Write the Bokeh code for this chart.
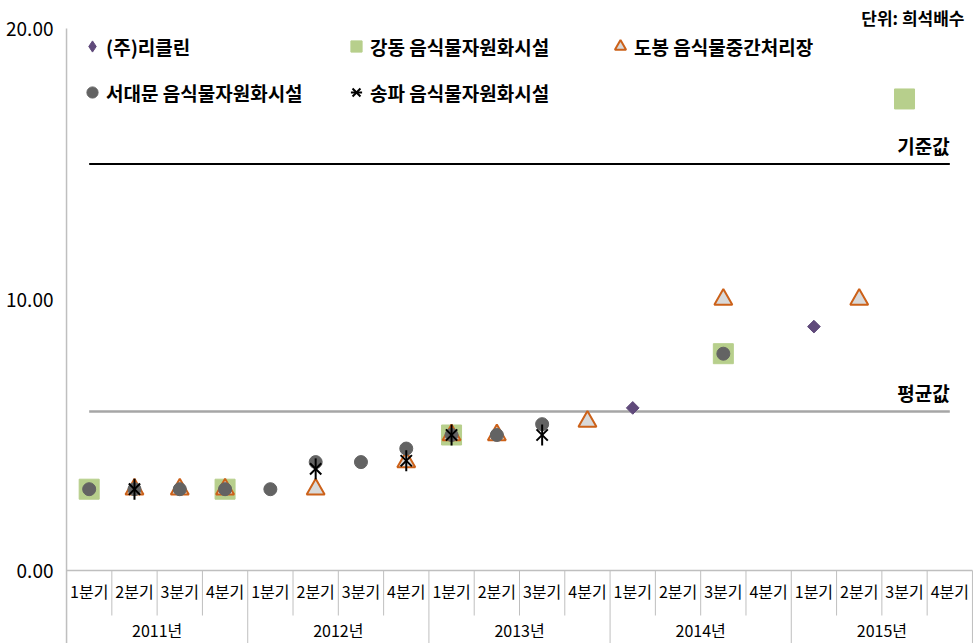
from bokeh.plotting import figure
from bokeh.models import Range1d, FixedTicker, NumeralTickFormatter, Legend, LegendItem, Label
from bokeh.embed import file_html
from bokeh.resources import INLINE
from bokeh.core.properties import value
import math

# ---------------- data ----------------
years = ["2011년", "2012년", "2013년", "2014년", "2015년"]
quarters = ["1분기", "2분기", "3분기", "4분기"]
categories = [(y, q) for y in years for q in quarters]

ricleen_cat = [("2014년", "1분기"), ("2015년", "1분기")]
ricleen_val = [6.0, 9.0]

gangdong_cat = [("2011년", "1분기"), ("2011년", "4분기"), ("2013년", "1분기"),
                ("2014년", "3분기"), ("2015년", "3분기")]
gangdong_val = [3.0, 3.0, 5.0, 8.0, 17.4]

dobong_cat = [("2011년", "2분기"), ("2011년", "3분기"), ("2011년", "4분기"),
              ("2012년", "2분기"), ("2012년", "4분기"), ("2013년", "1분기"),
              ("2013년", "2분기"), ("2013년", "4분기"), ("2014년", "3분기"),
              ("2015년", "2분기")]
dobong_val = [3.0, 3.0, 3.0, 3.0, 4.0, 5.0, 5.0, 5.5, 10.0, 10.0]

seodaemun_cat = [("2011년", "1분기"), ("2011년", "2분기"), ("2011년", "3분기"),
                 ("2011년", "4분기"), ("2012년", "1분기"), ("2012년", "2분기"),
                 ("2012년", "3분기"), ("2012년", "4분기"), ("2013년", "1분기"),
                 ("2013년", "2분기"), ("2013년", "3분기"), ("2014년", "3분기")]
seodaemun_val = [3.0, 3.0, 3.0, 3.0, 3.0, 4.0, 4.0, 4.5, 5.0, 5.0, 5.4, 8.0]

songpa_cat = [("2011년", "2분기"), ("2012년", "2분기"), ("2012년", "4분기"),
              ("2013년", "1분기"), ("2013년", "3분기")]
songpa_val = [3.0, 3.75, 4.05, 5.0, 5.0]

series_names = ["(주)리클린", "강동 음식물자원화시설", "도봉 음식물중간처리장",
                "서대문 음식물자원화시설", "송파 음식물자원화시설"]

standard_value = 15.0     # 기준값
average_value = 5.87      # 평균값
y_ticks = [0, 10, 20]
unit_text = "단위: 희석배수"

# ---------------- layout ----------------
FONT = "Noto Sans CJK KR"
W, H = 977, 643
PX_PER_UNIT = 27.1
ZERO_PX = 570                       # pixel row of y = 0
y_start = -(H - ZERO_PX) / PX_PER_UNIT
y_end = 20 + 28 / PX_PER_UNIT
pad = 0.045
n = len(categories)

def idx(cats):
    return [categories.index(c) for c in cats]

p = figure(width=W, height=H, output_backend="svg", toolbar_location=None,
           x_range=Range1d(-0.5 - pad, n - 0.5 + pad),
           y_range=Range1d(y_start, y_end),
           x_axis_location=None, min_border_left=64, min_border_right=3,
           min_border_top=0, min_border_bottom=0)
p.outline_line_color = None
p.grid.visible = False
p.background_fill_color = "white"

ax = p.yaxis[0]
ax.ticker = FixedTicker(ticks=y_ticks)
ax.formatter = NumeralTickFormatter(format="0.00")
ax.axis_line_color = None
ax.major_tick_line_color = None
ax.minor_tick_line_color = None
ax.major_label_standoff = 5
ax.major_label_text_font = FONT
ax.major_label_text_font_size = "19px"
ax.major_label_text_color = "#000000"

# table beneath the plot
grid_color = "#BFBFBF"
q_row_y = -20 / PX_PER_UNIT
yr_row_y = -59 / PX_PER_UNIT
q_sep_bottom = -45 / PX_PER_UNIT
bounds = [i - 0.5 for i in range(n + 1)]
q_bounds = [b for i, b in enumerate(bounds) if i % len(quarters) != 0]
yr_bounds = [b for i, b in enumerate(bounds) if i % len(quarters) == 0]
p.segment(x0=q_bounds, y0=[0] * len(q_bounds), x1=q_bounds, y1=[q_sep_bottom] * len(q_bounds),
          line_color=grid_color, line_width=1)
p.segment(x0=yr_bounds, y0=[0] * len(yr_bounds), x1=yr_bounds, y1=[y_start] * len(yr_bounds),
          line_color=grid_color, line_width=1)
p.segment(x0=[-0.5], y0=[0], x1=[n - 0.5], y1=[0], line_color=grid_color, line_width=1.5)
p.segment(x0=[-0.5], y0=[y_ticks[-1]], x1=[-0.5], y1=[y_start], line_color=grid_color, line_width=1.5)

p.text(x=list(range(n)), y=[q_row_y] * n, text=[c[1] for c in categories],
       text_font=value(FONT), text_font_size="16px", text_align="center",
       text_baseline="middle", text_color="#000000")
yr_centers = [i * len(quarters) + (len(quarters) - 1) / 2 for i in range(len(years))]
p.text(x=yr_centers, y=[yr_row_y] * len(years), text=years,
       text_font=value(FONT), text_font_size="16px", text_align="center",
       text_baseline="middle", text_color="#000000")

# reference lines
x_line = [0, n - 1]
p.line(x=x_line, y=[standard_value] * 2, line_color="#000000", line_width=2)
p.line(x=x_line, y=[average_value] * 2, line_color="#A6A6A6", line_width=2.5)
for txt, v in (("기준값", standard_value), ("평균값", average_value)):
    p.add_layout(Label(x=n - 1, y=v, text=txt, text_align="right", text_baseline="bottom",
                       y_offset=5, text_font=FONT, text_font_size="19px",
                       text_font_style="bold", text_color="#000000"))

# series
purple, green, orange, tri_fill, gray = "#604A7B", "#B7CF8C", "#CC6119", "#D9D9D9", "#636363"
r_green = p.scatter(x=idx(gangdong_cat), y=gangdong_val, marker="square", size=20,
                    fill_color=green, line_color=green)
r_tri = p.scatter(x=idx(dobong_cat), y=dobong_val, marker="triangle", size=18,
                  fill_color=tri_fill, line_color=orange, line_width=2)
r_circ = p.scatter(x=idx(seodaemun_cat), y=seodaemun_val, marker="circle", size=13,
                   fill_color=gray, line_color=gray)
r_ast_x = p.scatter(x=idx(songpa_cat), y=songpa_val, marker="x", size=16,
                    line_color="#000000", line_width=2)
r_ast_v = p.scatter(x=idx(songpa_cat), y=songpa_val, marker="dash", size=21, angle=math.pi / 2,
                    line_color="#000000", line_width=2)
r_dia = p.scatter(x=idx(ricleen_cat), y=ricleen_val, marker="square", size=9, angle=math.pi / 4,
                  fill_color=purple, line_color=purple)
# legend-only glyph (the legend ignores marker angle)
r_dia_leg = p.scatter(x=idx(ricleen_cat), y=ricleen_val, marker="diamond",
                      fill_color=purple, line_color=purple, visible=False)

legend = Legend(items=[LegendItem(label=series_names[0], renderers=[r_dia_leg]),
                       LegendItem(label=series_names[1], renderers=[r_green]),
                       LegendItem(label=series_names[2], renderers=[r_tri]),
                       LegendItem(label=series_names[3], renderers=[r_circ]),
                       LegendItem(label=series_names[4], renderers=[r_ast_x, r_ast_v])],
                orientation="horizontal", ncols=3, location=(14, 537),
                glyph_width=28, glyph_height=28, label_height=28, label_width=218,
                label_standoff=-3, spacing=18, padding=0, margin=0,
                border_line_color=None, background_fill_alpha=0,
                label_text_font=FONT, label_text_font_size="19px",
                label_text_font_style="bold", label_text_color="#000000")
p.add_layout(legend)

p.add_layout(Label(x=n - 0.5, y=y_end, text=unit_text, text_align="right", text_baseline="middle",
                   x_offset=-8, y_offset=-17, text_font=FONT, text_font_size="17px",
                   text_font_style="bold", text_color="#000000"))

open("out.html", "w").write(file_html(p, INLINE))
